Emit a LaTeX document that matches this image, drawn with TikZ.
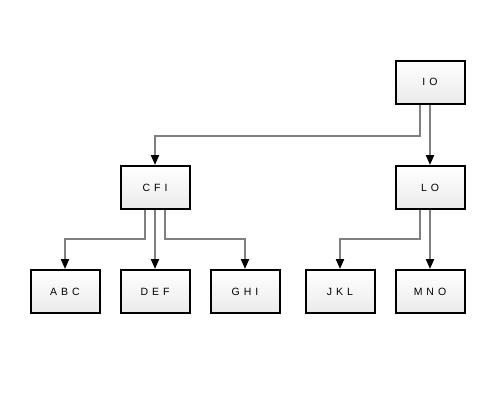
\documentclass[tikz,border=0pt]{standalone}
\usepackage{fontspec}
\setmainfont{Liberation Sans}
\usetikzlibrary{arrows.meta}
\begin{document}
\begin{tikzpicture}[x=1pt,y=1pt,
  box/.style={draw=black, line width=2pt, minimum width=69pt, minimum height=43pt,
    inner sep=0pt, shading=axis, left color=white, right color=black!8, shading angle=0,
    font=\addfontfeatures{LetterSpace=38}\fontsize{10.5}{12}\selectfont},
  arr/.style={draw=black!50, line width=2pt, -{Triangle[length=10pt,width=8pt,color=black]}}]
\useasboundingbox (0,0) rectangle (500,-400);
\node[box] (io) at (430,-82) {IO};
\node[box] (lo) at (430,-187.5) {LO};
\node[box] (cfi) at (155,-187.5) {CFI};
\node[box] (abc) at (65,-291.5) {ABC};
\node[box] (def) at (155,-291.5) {DEF};
\node[box] (ghi) at (245,-291.5) {GHI};
\node[box] (jkl) at (340,-291.5) {JKL};
\node[box] (mno) at (430,-291.5) {MNO};
\draw[arr] ([xshift=-10pt]io.south) -- ++(0,-31) -| (cfi.north);
\draw[arr] (io.south) -- (lo.north);
\draw[arr] ([xshift=-10pt]cfi.south) -- ++(0,-28.5) -| (abc.north);
\draw[arr] (cfi.south) -- (def.north);
\draw[arr] ([xshift=10pt]cfi.south) -- ++(0,-28.5) -| (ghi.north);
\draw[arr] ([xshift=-10pt]lo.south) -- ++(0,-28.5) -| (jkl.north);
\draw[arr] (lo.south) -- (mno.north);
\end{tikzpicture}
\end{document}
